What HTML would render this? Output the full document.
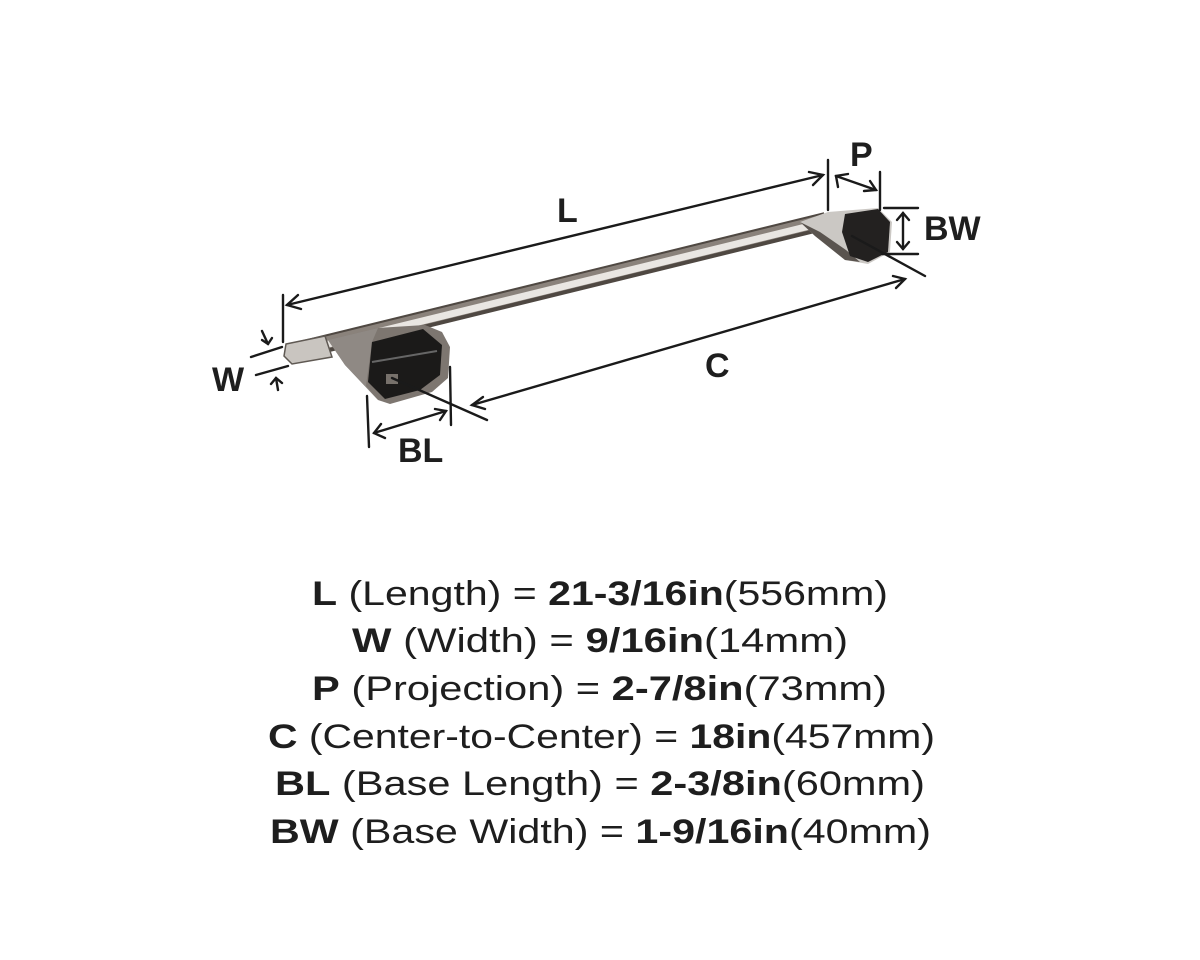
<!DOCTYPE html>
<html><head><meta charset="utf-8"><style>
html,body{margin:0;padding:0;background:#fff;}
svg{display:block}
.t{font-family:"Liberation Sans",sans-serif;font-size:34px;fill:#1e1e1e}
.b{font-weight:bold}
.lbl{font-family:"Liberation Sans",sans-serif;font-size:34px;font-weight:bold;fill:#1e1e1e}
</style></head><body>
<svg width="1200" height="960" viewBox="0 0 1200 960" xmlns="http://www.w3.org/2000/svg">
<g stroke-linecap="butt">
<line x1="296" y1="351" x2="826" y2="221" stroke="#4f4842" stroke-width="18"/>
<line x1="296" y1="350" x2="826" y2="220" stroke="#8a827b" stroke-width="12"/>
<line x1="296" y1="352" x2="826" y2="222" stroke="#e9e6e2" stroke-width="7"/>
</g>
<polygon points="286,344 325,336 332,357 292,364 284,356" fill="#c9c5c0" stroke="#5f5953" stroke-width="1.5"/>
<polygon points="328,340 378,328 425,325 442,332 450,347 448,378 432,392 390,404 378,400 345,365" fill="#7d7670"/>
<polygon points="328,340 378,328 372,342 366,386 378,400 345,365" fill="#8f8984"/>
<polygon points="372,342 423,329 442,345 440,375 420,390 385,399 368,382" fill="#1b1a19"/>
<line x1="372" y1="362" x2="437" y2="351" stroke="#666" stroke-width="2"/>
<rect x="386" y="374" width="12" height="10" fill="#77716b"/>
<polygon points="800,222 828,212 878,208 892,222 890,252 868,264 845,260 815,236" fill="#cbc8c4"/>
<polygon points="800,222 815,236 845,260 860,262 846,250 820,232" fill="#5a544f"/>
<polygon points="845,214 878,209 890,222 888,252 868,262 850,256 842,232" fill="#232120"/>
<g stroke="#1a1a1a" stroke-width="2.4" fill="none" stroke-linecap="round">
<line x1="287" y1="305" x2="823" y2="175"/>
<polyline points="298,295 287,305 301,309"/>
<polyline points="809,172 823,175 813,185"/>
<line x1="283" y1="295" x2="283" y2="342"/>
<line x1="828" y1="160" x2="828" y2="210"/>
<line x1="880" y1="172" x2="880" y2="210"/>
<line x1="836" y1="176" x2="876" y2="190"/>
<polyline points="838,187 836,176 848,174"/>
<polyline points="864,191 876,190 870,181"/>
<line x1="884" y1="208" x2="918" y2="208"/>
<line x1="882" y1="254" x2="918" y2="254"/>
<line x1="903" y1="213" x2="903" y2="249"/>
<polyline points="897,220 903,213 909,220"/>
<polyline points="897,242 903,249 909,242"/>
<line x1="472" y1="405" x2="905" y2="279"/>
<polyline points="483,397 472,405 485,409"/>
<polyline points="893,276 905,279 896,288"/>
<line x1="392" y1="378" x2="487" y2="420"/>
<line x1="852" y1="236" x2="925" y2="276"/>
<line x1="367" y1="396" x2="369" y2="447"/>
<line x1="450" y1="367" x2="451" y2="425"/>
<line x1="374" y1="433" x2="446" y2="411"/>
<polyline points="381,424 374,433 385,438"/>
<polyline points="435,409 446,411 440,420"/>
<line x1="251" y1="357" x2="282" y2="347"/>
<line x1="256" y1="375" x2="288" y2="366"/>
<line x1="262" y1="331" x2="268" y2="344"/>
<polyline points="262,340 268,344 272,338"/>
<line x1="278" y1="390" x2="276" y2="378"/>
<polyline points="271,384 276,378 282,383"/>
</g>
<text class="lbl" x="557" y="222">L</text>
<text class="lbl" x="850" y="166">P</text>
<text class="lbl" x="924" y="240">BW</text>
<text class="lbl" x="705" y="377">C</text>
<text class="lbl" x="398" y="462">BL</text>
<text class="lbl" x="212" y="391">W</text>
<text class="t" x="312" y="605" textLength="576" lengthAdjust="spacingAndGlyphs"><tspan class="b">L</tspan> (Length) = <tspan class="b">21-3/16in</tspan>(556mm)</text>
<text class="t" x="352" y="652" textLength="496" lengthAdjust="spacingAndGlyphs"><tspan class="b">W</tspan> (Width) = <tspan class="b">9/16in</tspan>(14mm)</text>
<text class="t" x="312" y="700" textLength="575" lengthAdjust="spacingAndGlyphs"><tspan class="b">P</tspan> (Projection) = <tspan class="b">2-7/8in</tspan>(73mm)</text>
<text class="t" x="268" y="748" textLength="667" lengthAdjust="spacingAndGlyphs"><tspan class="b">C</tspan> (Center-to-Center) = <tspan class="b">18in</tspan>(457mm)</text>
<text class="t" x="275" y="795" textLength="650" lengthAdjust="spacingAndGlyphs"><tspan class="b">BL</tspan> (Base Length) = <tspan class="b">2-3/8in</tspan>(60mm)</text>
<text class="t" x="270" y="843" textLength="661" lengthAdjust="spacingAndGlyphs"><tspan class="b">BW</tspan> (Base Width) = <tspan class="b">1-9/16in</tspan>(40mm)</text>
</svg>
</body></html>
